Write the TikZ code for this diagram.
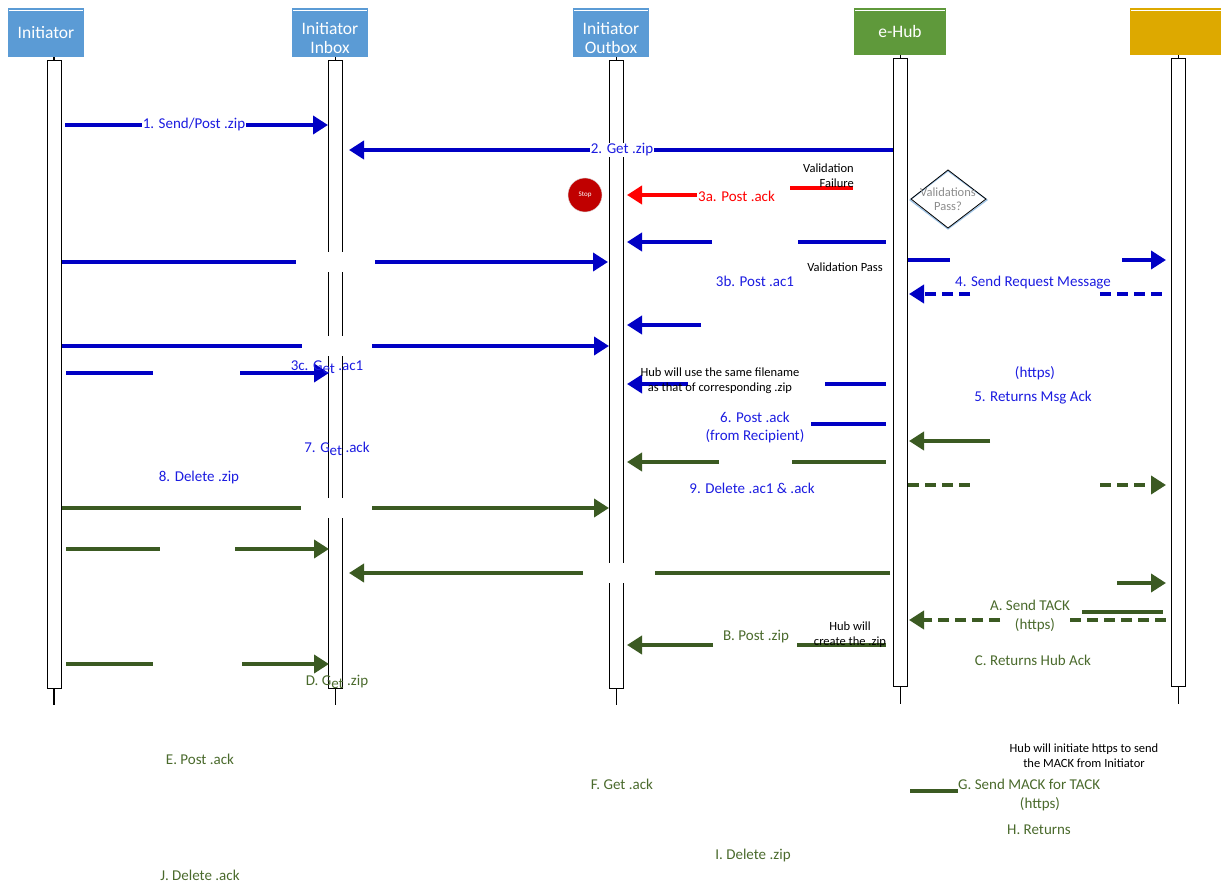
\documentclass[tikz,border=0pt]{standalone}
\usepackage{fontspec}
\setmainfont{Carlito}
\usetikzlibrary{arrows.meta}
\definecolor{hdrblue}{HTML}{5B9BD5}
\definecolor{hdrgreen}{HTML}{5F993B}
\definecolor{hdryel}{HTML}{DDA900}
\definecolor{arrblue}{HTML}{0000C4}
\definecolor{txtblue}{HTML}{1C1CE0}
\definecolor{arrgreen}{HTML}{3B5A22}
\definecolor{txtgreen}{HTML}{4A6A2C}
\definecolor{stopred}{HTML}{C00000}
\definecolor{arrred}{HTML}{FF0000}
\newcommand{\lowet}{\raisebox{-3.5pt}{et}}
\tikzset{
  hdr/.style={rectangle, minimum width=76pt, minimum height=49pt, inner sep=0pt, text=white, align=center, font=\fontsize{17.5}{20}\selectfont},
  lbar/.style={rectangle, draw=black, fill=white, line width=0.9pt, minimum width=14pt, minimum height=628pt, inner sep=0pt},
  tick/.style={draw=black, line width=1.2pt},
  arr/.style={line width=4pt, -{Triangle[length=15pt,width=18pt]}},
  seg/.style={line width=4pt},
  dsh/.style={dash pattern=on 11pt off 6pt},
  lbl/.style={font=\fontsize{15}{18}\selectfont, inner sep=1pt},
  note/.style={font=\fontsize{12.5}{15}\selectfont, text=black, align=center, inner sep=0pt},
}
\begin{document}
\begin{tikzpicture}[x=1pt,y=-1pt]
\useasboundingbox (0,0) rectangle (1221,885);
% headers
\node[hdr, fill=hdrblue] (ini) at (46,32.5) {Initiator};
\node[hdr, fill=hdrblue, text depth=0pt] (inb) at (330,32.5) {\raisebox{1pt}{\begin{tabular}{@{}c@{}}Initiator\\[-1pt]Inbox\end{tabular}}};
\node[hdr, fill=hdrblue, text depth=0pt] (otb) at (611,32.5) {\raisebox{1pt}{\begin{tabular}{@{}c@{}}Initiator\\[-1pt]Outbox\end{tabular}}};
\node[hdr, fill=hdrgreen, minimum width=92pt, minimum height=47pt] (hub) at (900,31.5) {e-Hub};
\node[hdr, fill=hdryel, minimum width=95pt, minimum height=47pt] (rcp) at (1177.5,31.5) {};
\foreach \n in {ini,inb,otb,hub,rcp}{
  \draw[white, line width=0.8pt] ([xshift=1pt,yshift=-3pt]\n.north west) -- ([xshift=-1pt,yshift=-3pt]\n.north east);
}
% lifeline bars
\node[lbar] (inibar) at (54,374) {};
\node[lbar] (inbbar) at (335.5,374) {};
\node[lbar] (otbbar) at (616.5,374) {};
\node[lbar] (hubbar) at (900.5,372.5) {};
\node[lbar] (rcpbar) at (1178.5,372.5) {};
\foreach \n in {ini,inb,otb,hub,rcp}{
  \draw[tick] (\n bar.north) -- (\n bar.north |- \n.south);
  \coordinate (\n end) at ([yshift=-17pt]\n bar.south);
  \draw[tick] (\n bar.south) -- (\n end);
}
% coordinates for message ends
\coordinate (m1s) at (65,125);  \coordinate (m1e) at (328,125);
\coordinate (m2s) at (893,150); \coordinate (m2e) at (349,150);
\coordinate (r1s) at (790,188); \coordinate (r1e) at (853,188);
\coordinate (r2s) at (698,195); \coordinate (r2e) at (627,195);
\coordinate (b3s) at (712,242); \coordinate (b3e) at (627,242);
\coordinate (b3t) at (798,242); \coordinate (b3u) at (886,242);
\coordinate (b4s) at (908,260); \coordinate (b4e) at (950,260);
\coordinate (b4t) at (1122,260); \coordinate (b4u) at (1166,260);
\coordinate (b5s) at (62,262);  \coordinate (b5e) at (608,262);
\coordinate (b6s) at (970,294); \coordinate (b6e) at (909,294);
\coordinate (b6t) at (1100,294); \coordinate (b6u) at (1166,294);
\coordinate (b7s) at (701,325); \coordinate (b7e) at (627,325);
\coordinate (b8s) at (62,346);  \coordinate (b8e) at (609,346);
\coordinate (b9s) at (66,373);  \coordinate (b9e) at (153,373);
\coordinate (b9t) at (240,373); \coordinate (b9u) at (329,373);
\coordinate (bas) at (688,384); \coordinate (bae) at (627,384);
\coordinate (bat) at (825,384); \coordinate (bau) at (886,384);
\coordinate (bbs) at (811,424); \coordinate (bbe) at (886,424);
\coordinate (g1s) at (990,441); \coordinate (g1e) at (909,441);
\coordinate (g2s) at (719,462); \coordinate (g2e) at (627,462);
\coordinate (g2t) at (792,462); \coordinate (g2u) at (886,462);
\coordinate (g3s) at (908,485); \coordinate (g3e) at (972,485);
\coordinate (g3t) at (1100,485); \coordinate (g3u) at (1166,485);
\coordinate (g4s) at (62,508);  \coordinate (g4e) at (609,508);
\coordinate (g5s) at (66,549);  \coordinate (g5e) at (160,549);
\coordinate (g5t) at (235,549); \coordinate (g5u) at (329,549);
\coordinate (g6s) at (890,573); \coordinate (g6e) at (349,573);
\coordinate (g7s) at (1117,583); \coordinate (g7e) at (1166,583);
\coordinate (g8s) at (1082,612); \coordinate (g8e) at (1163,612);
\coordinate (g9s) at (1000,620); \coordinate (g9e) at (909,620);
\coordinate (g9t) at (1070,620); \coordinate (g9u) at (1166,620);
\coordinate (gas) at (713,645); \coordinate (gae) at (627,645);
\coordinate (gat) at (797,645); \coordinate (gau) at (886,645);
\coordinate (gbs) at (66,664);  \coordinate (gbe) at (153,664);
\coordinate (gbt) at (242,664); \coordinate (gbu) at (329,664);
\coordinate (gcs) at (910,791); \coordinate (gce) at (958,791);
% blue messages
\draw[arr, arrblue] (m1s) -- (m1e);
\draw[arr, arrblue] (m2s) -- (m2e);
\draw[arr, arrblue] (b3s) -- (b3e);
\draw[seg, arrblue] (b3t) -- (b3u);
\draw[seg, arrblue] (b4s) -- (b4e);
\draw[arr, arrblue] (b4t) -- (b4u);
\draw[arr, arrblue] (b5s) -- (b5e);
\draw[arr, arrblue, dsh] (b6s) -- (b6e);
\draw[seg, arrblue, dsh] (b6t) -- (b6u);
\draw[arr, arrblue] (b7s) -- (b7e);
\draw[arr, arrblue] (b8s) -- (b8e);
\draw[seg, arrblue] (b9s) -- (b9e);
\draw[arr, arrblue] (b9t) -- (b9u);
\draw[arr, arrblue] (bas) -- (bae);
\draw[seg, arrblue] (bat) -- (bau);
\draw[seg, arrblue] (bbs) -- (bbe);
% red messages
\draw[seg, arrred] (r1s) -- (r1e);
\draw[arr, arrred] (r2s) -- (r2e);
% green messages
\draw[arr, arrgreen] (g1s) -- (g1e);
\draw[arr, arrgreen] (g2s) -- (g2e);
\draw[seg, arrgreen] (g2t) -- (g2u);
\draw[seg, arrgreen, dsh] (g3s) -- (g3e);
\draw[arr, arrgreen, dsh] (g3t) -- (g3u);
\draw[arr, arrgreen] (g4s) -- (g4e);
\draw[seg, arrgreen] (g5s) -- (g5e);
\draw[arr, arrgreen] (g5t) -- (g5u);
\draw[arr, arrgreen] (g6s) -- (g6e);
\draw[arr, arrgreen] (g7s) -- (g7e);
\draw[seg, arrgreen] (g8s) -- (g8e);
\draw[arr, arrgreen, dsh] (g9s) -- (g9e);
\draw[seg, arrgreen, dsh] (g9t) -- (g9u);
\draw[arr, arrgreen] (gas) -- (gae);
\draw[seg, arrgreen] (gat) -- (gau);
\draw[seg, arrgreen] (gbs) -- (gbe);
\draw[arr, arrgreen] (gbt) -- (gbu);
\draw[seg, arrgreen] (gcs) -- (gce);
% white gaps
\fill[white] (296,252) rectangle (375,272);
\fill[white] (302,336) rectangle (372,356);
\fill[white] (301,498) rectangle (372,518);
\fill[white] (583,563) rectangle (655,583);
% stop and decision
\node[circle, fill=stopred, draw=black!15, minimum size=34pt, inner sep=0pt, font=\fontsize{7}{8}\selectfont, text=white] (stop) at (585,195) {Stop};
\draw[draw=hdrblue!60, line width=1.2pt] (910,200) -- (948,171) -- (987,200) -- (948,229) -- cycle;
\draw[draw=black, line width=0.8pt] (911,199) -- (948,170) -- (986,199) -- (948,228) -- cycle;
\node[note, text=black!45, font=\fontsize{12.5}{14}\selectfont] (dec) at (948,199) {Validations\\Pass?};
% labels
\node[lbl, text=txtblue, fill=white] (l1) at (194,125) {1. Send/Post .zip};
\node[lbl, text=txtblue, fill=white] (l2) at (622,150) {2. Get .zip};
\node[note, align=right, anchor=east] (vf) at (854,176) {Validation\\Failure};
\node[lbl, text=arrred, anchor=west, fill=white] (l3a) at (697,196) {3a. Post .ack};
\node[note] (vp) at (845,267) {Validation Pass};
\node[lbl, text=txtblue] (l3b) at (755,281) {3b. Post .ac1};
\node[lbl, text=txtblue] (l4) at (1033,283) {4. Send Request Message};
\node[lbl, text=txtblue] (l3c) at (327,367) {3c. G\lowet{} .ac1};
\node[note] (hf) at (720,381) {Hub will use the same filename\\as that of corresponding .zip};
\node[lbl, text=txtblue] (lh1) at (1035,373) {(https)};
\node[lbl, text=txtblue] (l5) at (1033,398) {5. Returns Msg Ack};
\node[lbl, text=txtblue, align=center] (l6) at (755,428) {6. Post .ack\\(from Recipient)};
\node[lbl, text=txtblue] (l7) at (337,449) {7. G\lowet{} .ack};
\node[lbl, text=txtblue] (l8) at (199,477) {8. Delete .zip};
\node[lbl, text=txtblue] (l9) at (752,488) {9. Delete .ac1 \& .ack};
\node[lbl, text=txtgreen] (lA) at (1030,605) {A. Send TACK};
\node[lbl, text=txtgreen] (lh2) at (1035,625) {(https)};
\node[note] (hc) at (850,635) {Hub will\\create the .zip};
\node[lbl, text=txtgreen] (lB) at (756,637) {B. Post .zip};
\node[lbl, text=txtgreen] (lC) at (1033,660) {C. Returns Hub Ack};
\node[lbl, text=txtgreen] (lD) at (337,682) {D. G\lowet{} .zip};
\node[lbl, text=txtgreen] (lE) at (200,759) {E. Post .ack};
\node[lbl, text=txtgreen] (lF) at (622,784) {F. Get .ack};
\node[note] (hm) at (1084,756) {Hub will initiate https to send\\the MACK from Initiator};
\node[lbl, text=txtgreen, anchor=west] (lG) at (957,784) {G. Send MACK for TACK};
\node[lbl, text=txtgreen] (lh3) at (1040,804) {(https)};
\node[lbl, text=txtgreen] (lH) at (1039,830) {H. Returns};
\node[lbl, text=txtgreen] (lI) at (753,855) {I. Delete .zip};
\node[lbl, text=txtgreen] (lJ) at (200,875) {J. Delete .ack};
\end{tikzpicture}
\end{document}
